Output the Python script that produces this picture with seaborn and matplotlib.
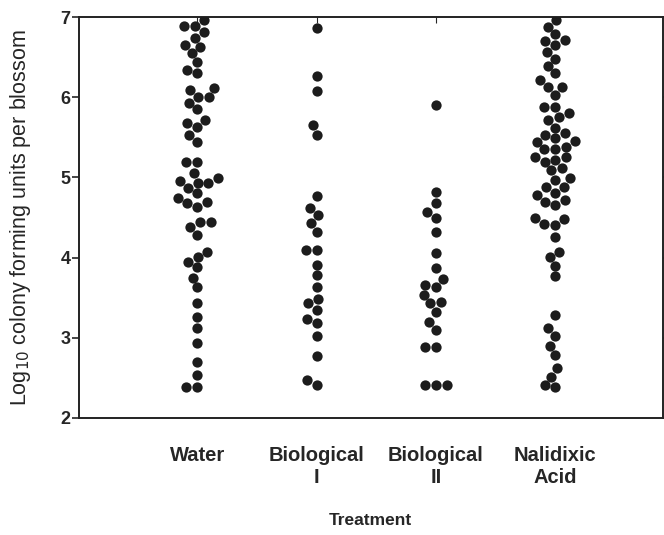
import numpy as np
import pandas as pd
import matplotlib
matplotlib.use("Agg")
import matplotlib.pyplot as plt
import seaborn as sns

categories = ["Water", "Biological\nI", "Biological\nII", "Nalidixic\nAcid"]

water = [6.96, 6.89, 6.89, 6.81, 6.74, 6.65, 6.55, 6.63, 6.44, 6.30, 6.34,
         6.11, 6.00, 6.09, 6.00, 5.93, 5.85, 5.72, 5.63, 5.53, 5.68, 5.44,
         5.19, 5.19, 5.05, 4.96, 4.99, 4.87, 4.74, 4.93, 4.93, 4.80, 4.68,
         4.69, 4.63, 4.44, 4.38, 4.44, 4.28, 4.07, 3.95, 4.01, 3.88, 3.75,
         3.63, 3.43, 3.26, 3.12, 2.94, 2.70, 2.54, 2.39, 2.39]

bio1 = [6.86, 6.26, 6.08, 5.65, 5.53, 4.77, 4.62, 4.53, 4.43, 4.32, 4.10,
        4.10, 3.91, 3.78, 3.63, 3.48, 3.43, 3.35, 3.18, 3.23, 3.02, 2.77,
        2.47, 2.41]

bio2 = [5.90, 4.82, 4.68, 4.57, 4.49, 4.32, 4.06, 3.87, 3.73, 3.66, 3.63,
        3.53, 3.45, 3.43, 3.32, 3.20, 3.10, 2.89, 2.89, 2.41, 2.41, 2.41]

nalidixic = [6.96, 6.88, 6.79, 6.71, 6.65, 6.56, 6.48, 6.39, 6.30, 6.21, 6.13,
             6.70, 6.03, 6.13, 5.88, 5.75,
             5.88, 5.80, 5.72, 5.62, 5.53, 5.44, 5.35, 5.19,
             5.55, 5.45, 5.35, 5.25,
             5.49, 5.38, 5.25, 5.09,
             5.22, 5.12, 4.97, 4.88, 4.78, 4.66, 4.48,
             4.99, 4.88, 4.69, 4.49, 4.41, 4.07, 3.12,
             4.81, 4.26, 3.90, 2.62, 2.39,
             4.72, 4.42, 4.01, 3.77, 3.28, 3.02, 2.79, 2.51, 2.41,
             2.90]

yticks = [2, 3, 4, 5, 6, 7]

groups = [water, bio1, bio2, nalidixic]
df = pd.DataFrame({
    "Treatment": np.concatenate([[c] * len(g) for c, g in zip(categories, groups)]),
    "value": np.concatenate(groups),
})

sns.set_style("ticks")
plt.rcParams["font.family"] = ["Liberation Sans", "DejaVu Sans"]

fig = plt.figure(figsize=(6.64, 5.35), dpi=100)
ax = fig.add_axes([0.119, 0.219, 0.879, 0.749])

sns.swarmplot(data=df, x="Treatment", y="value", order=categories,
              color="#1c1c1c", size=7.4, linewidth=0, ax=ax, warn_thresh=1)

ax.set_xlim(-0.99, 3.90)
ax.set_ylim(2, 7)
ax.set_yticks(yticks)
ax.set_yticklabels([str(t) for t in yticks], fontsize=13, fontweight="bold")
ax.tick_params(axis="y", direction="out", length=5, width=1.2, pad=1, right=True)
ax.tick_params(axis="x", bottom=False, top=True, direction="in", length=4,
               labelsize=14.5, pad=20)
for lbl in ax.get_xticklabels():
    lbl.set_fontweight("bold")

ax.set_xlabel("Treatment", fontsize=12.5, fontweight="bold", labelpad=19)
ax.set_ylabel("Log$_{10}$ colony forming units per blossom", fontsize=15.5,
              labelpad=20)

for side in ["left", "right", "top", "bottom"]:
    ax.spines[side].set_visible(True)
    ax.spines[side].set_linewidth(1.4)
    ax.spines[side].set_color("#222222")

fig.savefig("out.png", dpi=100)
